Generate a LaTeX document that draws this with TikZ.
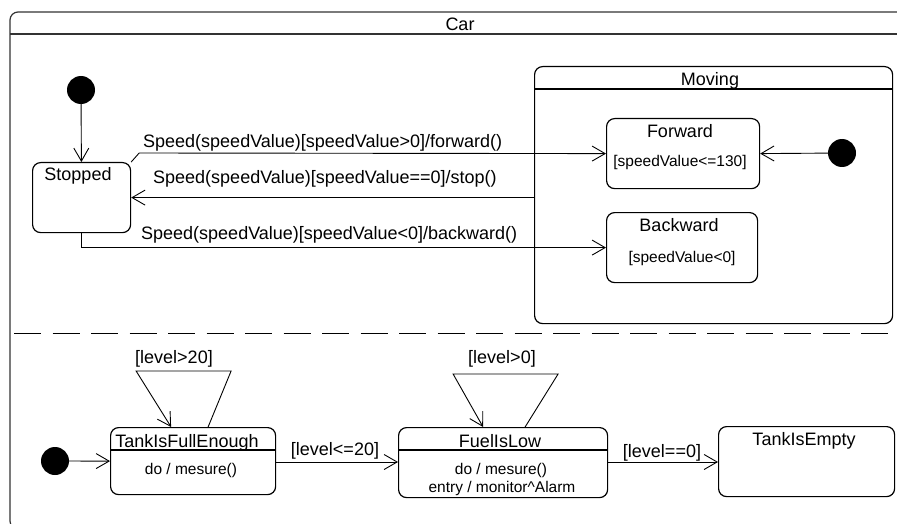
\documentclass[tikz,border=0pt]{standalone}
\usepackage{fontspec}
\setmainfont{Liberation Sans}
\usetikzlibrary{arrows.meta}

\begin{document}
\begin{tikzpicture}
    [x=1pt, y=-1pt,
    font=\fontsize{18}{21}\selectfont,
    state/.style = {draw, rounded corners=8pt, line width=1.2pt,
                    inner sep=0pt, anchor=north west},
    init/.style = {circle, fill, minimum size=28pt, inner sep=0pt},
    trans/.style = {line width=0.9pt, -{Straight Barb[length=13pt,width=15pt]}},
    txt/.style = {inner sep=0pt, anchor=base},
    small/.style = {font=\fontsize{15.5}{18}\selectfont}]
    \useasboundingbox (0,0) rectangle (897,524);
    \clip (0,0) rectangle (897,524);
    \draw[line width=1.2pt, black!80, rounded corners=8pt] (10,12) rectangle (920,529);
    \draw[line width=1.2pt, black!80] (10,34) -- (897,34);
    \node[txt] (car) at (460,31) {Car};
    \draw[line width=1pt, dash pattern=on 27pt off 11.5pt] (14,333) -- (897,333);
    % upper region
    \node[init] (start1) at (81,90) {};
    \node[init] (start2) at (842,153) {};
    \node[state, minimum width=98pt, minimum height=70pt] (stopped) at (32,162) {};
    \node[state, minimum width=358pt, minimum height=257pt] (moving) at (534,66) {};
    \node[state, minimum width=153pt, minimum height=70pt] (forward) at (606,118) {};
    \node[state, minimum width=151pt, minimum height=70pt] (backward) at (606,212) {};
    \draw[line width=1.2pt] (moving.west |- 0,89) -- (moving.east |- 0,89);
    \node[txt] (stoppedname) at (78,181) {Stopped};
    \node[txt] (movingname) at (710,86) {Moving};
    \node[txt] (forwardname) at (680,138) {Forward};
    \node[txt, small] (forwardguard) at (680,167) {[speedValue<=130]};
    \node[txt] (backwardname) at (679,231) {Backward};
    \node[txt, small] (backwardguard) at (682,262) {[speedValue<0]};
    \draw[trans] (start1) -- (stopped);
    \draw[trans] (start2) -- (forward.east);
    \draw[trans] (stopped.north east) -- ++(8,-9) -- (forward.west);
    \draw[trans] (moving.west |- stopped.east) -- (stopped.east);
    \draw[trans] (stopped.south) |- (backward.west);
    \node[txt, anchor=base west] (lforward) at (143,148) {Speed(speedValue)[speedValue>0]/forward()};
    \node[txt, anchor=base west] (lstop) at (153,183) {Speed(speedValue)[speedValue==0]/stop()};
    \node[txt, anchor=base west] (lbackward) at (141,239) {Speed(speedValue)[speedValue<0]/backward()};
    % lower region
    \node[init] (start3) at (55,461) {};
    \node[state, minimum width=165pt, minimum height=67pt] (tank) at (110,427) {};
    \node[state, minimum width=209pt, minimum height=70pt] (fuel) at (398,427) {};
    \node[state, minimum width=176pt, minimum height=70pt] (empty) at (718,426) {};
    \draw[line width=1.2pt] (tank.west |- 0,450) -- (tank.east |- 0,450);
    \draw[line width=1.2pt] (fuel.west |- 0,450) -- (fuel.east |- 0,450);
    \node[txt] (tankname) at (187,447) {TankIsFullEnough};
    \node[txt, small] (tankdo) at (191,474) {do / mesure()};
    \node[txt] (fuelname) at (500,447) {FuelIsLow};
    \node[txt, small] (fueldo) at (501,474) {do / mesure()};
    \node[txt, small] (fuelentry) at (502,492) {entry / monitor\textasciicircum Alarm};
    \node[txt] (emptyname) at (804,445) {TankIsEmpty};
    \draw[trans] (start3) -- (tank.west);
    \draw[trans] ([xshift=15pt]tank.north) -- ++(23,-56) -- ++(-95,0) -- ([xshift=-22pt]tank.north);
    \draw[trans] ([xshift=22pt]fuel.north) -- ++(33,-53) -- ++(-105,0) -- ([xshift=-20pt]fuel.north);
    \draw[trans] (tank.east |- 0,462) -- (fuel.west |- 0,462);
    \draw[trans] (fuel.east |- 0,462) -- (empty.west |- 0,462);
    \node[txt] (lfull) at (174,363) {[level>20]};
    \node[txt] (llow) at (502,363) {[level>0]};
    \node[txt] (lless) at (335,455) {[level<=20]};
    \node[txt] (lzero) at (662,457) {[level==0]};
\end{tikzpicture}
\end{document}
